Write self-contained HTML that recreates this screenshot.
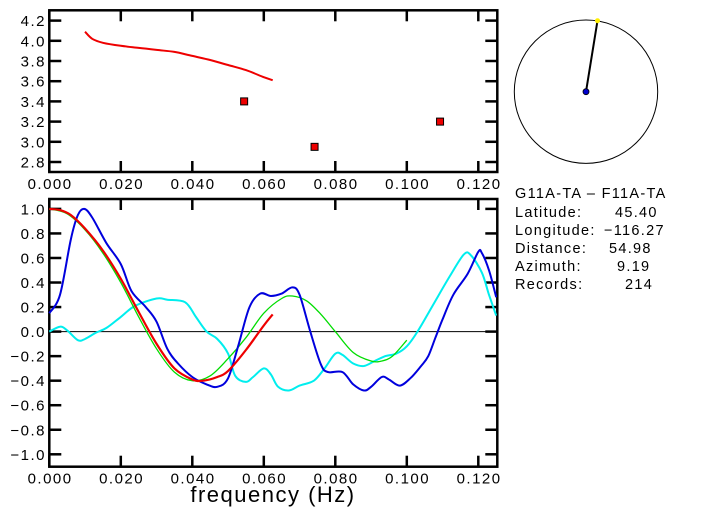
<!DOCTYPE html>
<html><head><meta charset="utf-8"><style>
body{margin:0;background:#fff;}
svg text{font-family:"Liberation Sans",sans-serif;}
</style></head><body>
<svg width="702" height="519" viewBox="0 0 702 519">
<g id="topPlot"></g>
<g id="botPlot"></g>
<g id="map">
  <circle cx="586" cy="91.7" r="71.7" fill="none" stroke="#000" stroke-width="1"/>
  <line x1="586" y1="91.7" x2="597.5" y2="20.7" stroke="#000" stroke-width="2"/>
  <circle cx="597.5" cy="20.7" r="2.5" fill="#ffee00"/>
  <circle cx="586" cy="91.7" r="3" fill="#0000cc" stroke="#000" stroke-width="0.8"/>
</g>
<g font-size="14.5" fill="#000" letter-spacing="1.3">
  <text x="515" y="198">G11A-TA  –  F11A-TA</text>
  <text x="515" y="217">Latitude:</text><text x="615" y="217">45.40</text>
  <text x="515" y="235">Longitude:</text><text x="604" y="235">−116.27</text>
  <text x="515" y="253">Distance:</text><text x="609" y="253">54.98</text>
  <text x="515" y="271">Azimuth:</text><text x="617" y="271">9.19</text>
  <text x="515" y="289">Records:</text><text x="625" y="289">214</text>
</g>
<text x="273" y="502" font-size="22" letter-spacing="1.5" text-anchor="middle">frequency  (Hz)</text>
</svg>
<script>
const xTicks=[0,0.02,0.04,0.06,0.08,0.10,0.12];
const xTickLabels=["0.000","0.020","0.040","0.060","0.080","0.100","0.120"];
const topYTicks=[2.8,3.0,3.2,3.4,3.6,3.8,4.0,4.2];
const botYTicks=[-1,-0.8,-0.6,-0.4,-0.2,0,0.2,0.4,0.6,0.8,1.0];
const velFreq=[0.010,0.012,0.015,0.020,0.025,0.030,0.035,0.040,0.045,0.050,0.055,0.060,0.0625];
const velVals=[4.09,4.02,3.98,3.95,3.93,3.91,3.89,3.85,3.81,3.76,3.71,3.64,3.61];
const ptFreq=[0.0545,0.0742,0.1093];
const ptVals=[3.40,2.95,3.20];
const blueFreq=[0,0.003,0.006,0.008,0.0098,0.012,0.016,0.020,0.023,0.027,0.030,0.033,0.036,0.040,0.044,0.047,0.050,0.053,0.056,0.059,0.062,0.065,0.068,0.070,0.073,0.076,0.078,0.082,0.085,0.088,0.090,0.093,0.095,0.098,0.101,0.104,0.106,0.108,0.110,0.113,0.117,0.120,0.121,0.123,0.125];
const blueVals=[0.15,0.3,0.75,0.95,1.0,0.93,0.72,0.55,0.33,0.2,0.08,-0.14,-0.26,-0.37,-0.43,-0.45,-0.38,-0.1,0.2,0.31,0.29,0.31,0.36,0.3,0.0,-0.27,-0.33,-0.33,-0.43,-0.48,-0.45,-0.37,-0.39,-0.44,-0.38,-0.28,-0.2,-0.05,0.1,0.3,0.47,0.65,0.64,0.5,0.28];
const cyanFreq=[0,0.003,0.005,0.008,0.010,0.013,0.016,0.020,0.024,0.030,0.033,0.038,0.041,0.044,0.047,0.050,0.052,0.055,0.057,0.060,0.062,0.064,0.067,0.070,0.074,0.077,0.080,0.082,0.085,0.088,0.091,0.094,0.097,0.100,0.103,0.107,0.112,0.116,0.118,0.121,0.123,0.125];
const cyanVals=[0.0,0.04,0.01,-0.07,-0.06,-0.01,0.03,0.12,0.21,0.27,0.26,0.24,0.12,0.0,-0.06,-0.18,-0.36,-0.41,-0.37,-0.3,-0.35,-0.45,-0.48,-0.44,-0.4,-0.3,-0.18,-0.19,-0.26,-0.28,-0.24,-0.2,-0.18,-0.12,0.0,0.2,0.45,0.63,0.62,0.48,0.3,0.13];
const greenFreq=[0,0.005,0.010,0.015,0.020,0.025,0.030,0.035,0.040,0.045,0.050,0.055,0.060,0.065,0.068,0.072,0.076,0.080,0.085,0.090,0.093,0.096,0.100];
const greenVals=[1.0,0.96,0.83,0.64,0.4,0.12,-0.14,-0.33,-0.4,-0.36,-0.22,-0.05,0.15,0.27,0.29,0.25,0.14,0.0,-0.17,-0.24,-0.24,-0.2,-0.07];
const redFreq=[0,0.003,0.006,0.010,0.015,0.020,0.025,0.030,0.035,0.040,0.043,0.047,0.050,0.055,0.060,0.0625];
const redVals=[1.0,0.99,0.95,0.84,0.66,0.43,0.16,-0.1,-0.3,-0.39,-0.4,-0.37,-0.32,-0.15,0.05,0.14];

const NS="http://www.w3.org/2000/svg";
const X0=49.3,XS=3575,XR=497.3;
const xs=f=>X0+f*XS;
const topY=v=>162-(v-2.8)*101;
const botY=v=>331.6-v*122.7;
function mk(tag,attrs,parent){const e=document.createElementNS(NS,tag);for(const k in attrs)e.setAttribute(k,attrs[k]);parent.appendChild(e);return e;}
function smooth(fr,vals,yf){const p=fr.map((f,i)=>[xs(f),yf(vals[i])]);let d="M"+p[0][0].toFixed(1)+","+p[0][1].toFixed(1);
 for(let i=0;i<p.length-1;i++){const a=p[i-1]||p[i],b=p[i],c=p[i+1],e=p[i+2]||c;
  const c1=[b[0]+(c[0]-a[0])/6,b[1]+(c[1]-a[1])/6],c2=[c[0]-(e[0]-b[0])/6,c[1]-(e[1]-b[1])/6];
  d+=` C${c1[0].toFixed(1)},${c1[1].toFixed(1)} ${c2[0].toFixed(1)},${c2[1].toFixed(1)} ${c[0].toFixed(1)},${c[1].toFixed(1)}`;}
 return d;}
function frame(g,t0,b0,yTicks,yf,name){
 const r=mk("rect",{x:X0,y:t0,width:XR-X0,height:b0-t0,fill:"none",stroke:"#000","stroke-width":2.5},g);
 
 
 xTicks.forEach((t,i)=>{const x=xs(t);
  mk("line",{x1:x,y1:t0,x2:x,y2:t0+11,stroke:"#000","stroke-width":2.5},g);
  mk("line",{x1:x,y1:b0,x2:x,y2:b0-11,stroke:"#000","stroke-width":2.5},g);
  const tx=mk("text",{x:x+0.8,y:b0+17,"font-size":15,"letter-spacing":1.5,"text-anchor":"middle"},g);tx.textContent=xTickLabels[i];
  
  });
 yTicks.forEach(v=>{const y=yf(v);
  mk("line",{x1:X0,y1:y,x2:X0+12,y2:y,stroke:"#000","stroke-width":2.5},g);
  mk("line",{x1:XR,y1:y,x2:XR-12,y2:y,stroke:"#000","stroke-width":2.5},g);
  const tx=mk("text",{x:46,y:y+5.5,"font-size":15,"letter-spacing":1.5,"text-anchor":"end"},g);tx.textContent=(v<0?"−":"")+Math.abs(v).toFixed(1);
  
  });
}
const topG=document.getElementById("topPlot"),botG=document.getElementById("botPlot");
frame(topG,10.3,172,topYTicks,topY,"top");
frame(botG,199,466.7,botYTicks,botY,"bottom");
const vl=mk("path",{d:smooth(velFreq,velVals,topY),fill:"none",stroke:"#ee0000","stroke-width":2},topG);


ptFreq.forEach((f,i)=>{const s=mk("rect",{x:xs(f)-3.5,y:topY(ptVals[i])-3.5,width:7,height:7,fill:"#ee0000",stroke:"#000","stroke-width":1},topG);
 
 });
const z=mk("line",{x1:X0,y1:botY(0),x2:XR,y2:botY(0),stroke:"#000","stroke-width":1},botG);


[[cyanFreq,cyanVals,"#00eeee",2,"cyan-series"],[greenFreq,greenVals,"#00dd00",1.3,"green-series"],[blueFreq,blueVals,"#0000dd",2,"blue-series"],[redFreq,redVals,"#ee0000",2.2,"red-series"]].forEach(s=>{
 const p=mk("path",{d:smooth(s[0],s[1],botY),fill:"none",stroke:s[2],"stroke-width":s[3]},botG);
 
 });
</script>
</body></html>
